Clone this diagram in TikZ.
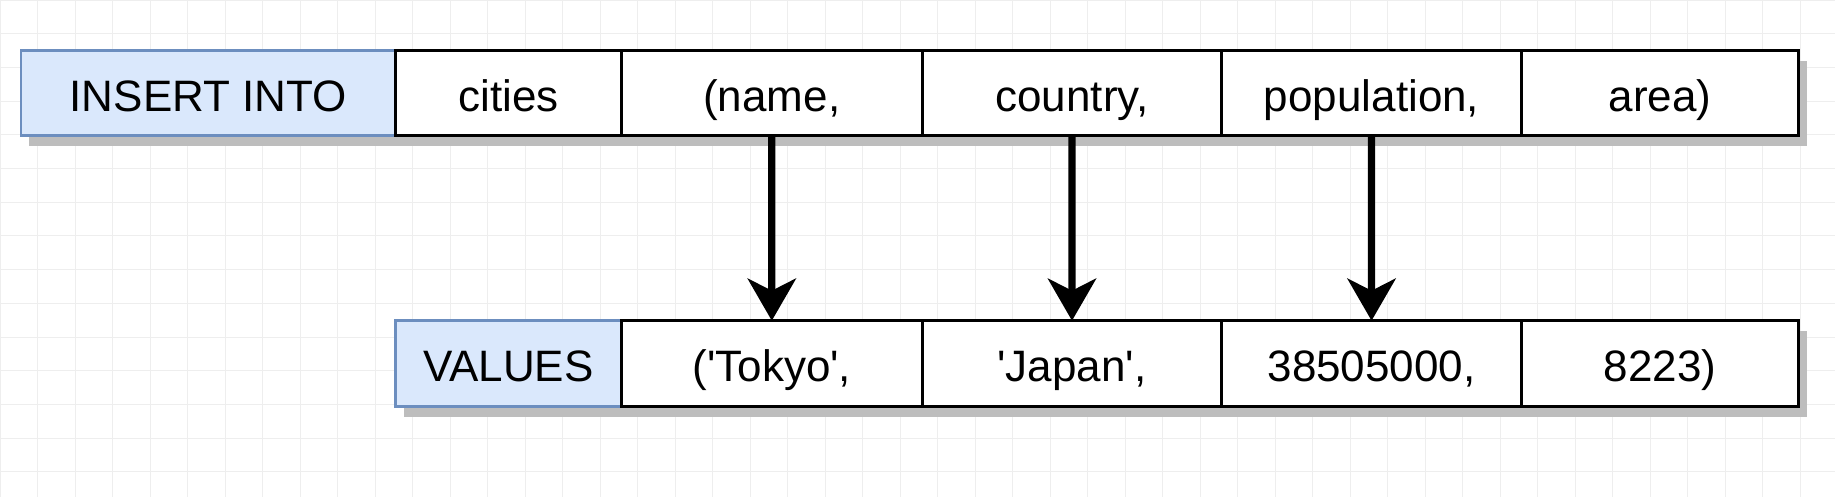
\documentclass[tikz,border=0pt]{standalone}
\usepackage{fontspec}
\setmainfont{Liberation Sans}
\usetikzlibrary{positioning,arrows.meta,shadows}
\definecolor{kwfill}{HTML}{DAE8FC}
\definecolor{kwline}{HTML}{6C8EBF}
\definecolor{shade}{HTML}{BDBDBD}
\definecolor{gridgray}{HTML}{EEEEEE}
\newcommand{\q}{\textquotesingle}
\tikzset{
  cell/.style={draw=black, line width=1.4pt, fill=white, inner sep=0pt, outer sep=0pt,
    minimum height=42.75pt, text height=18pt, text depth=0pt,
    font=\fontsize{22}{26}\selectfont,
    drop shadow={shadow xshift=4pt, shadow yshift=-5.25pt, fill=shade, opacity=1}},
  kw/.style={cell, draw=kwline, fill=kwfill},
  link/.style={line width=3.6pt, -{Stealth[length=21pt,width=24pt,inset=6pt]}}
}

\begin{document}
\begin{tikzpicture}[x=0.5pt,y=-0.5pt]
  \useasboundingbox (0,0) rectangle (1835,497);
  \draw[gridgray, line width=0.5pt] (0,0) grid[xstep=18.75pt,ystep=16.85pt] (1835,497);

  \node (ins) [kw, minimum width=187.3pt, anchor=north west] at (21,50.3) {INSERT INTO};
  \node (tbl) [cell, minimum width=112.9pt, right=0pt of ins] {cities};
  \node (name) [cell, minimum width=150.4pt, right=0pt of tbl] {(name,};
  \node (ctry) [cell, minimum width=149.8pt, right=0pt of name] {country,};
  \node (pop) [cell, minimum width=149.75pt, right=0pt of ctry] {population,};
  \node (area) [cell, minimum width=138.75pt, right=0pt of pop] {area)};

  \node (val) [kw, minimum width=112.9pt, anchor=north west] at (395.6,320.7) {VALUES};
  \node (tokyo) [cell, minimum width=150.4pt, right=0pt of val] {(\q Tokyo\q,};
  \node (japan) [cell, minimum width=149.8pt, right=0pt of tokyo] {\q Japan\q,};
  \node (num) [cell, minimum width=149.75pt, right=0pt of japan] {38505000,};
  \node (size) [cell, minimum width=138.75pt, right=0pt of num] {8223)};

  \draw[link]
   (name) edge (tokyo)
   (ctry) edge (japan)
   (pop) edge (num);
\end{tikzpicture}
\end{document}
